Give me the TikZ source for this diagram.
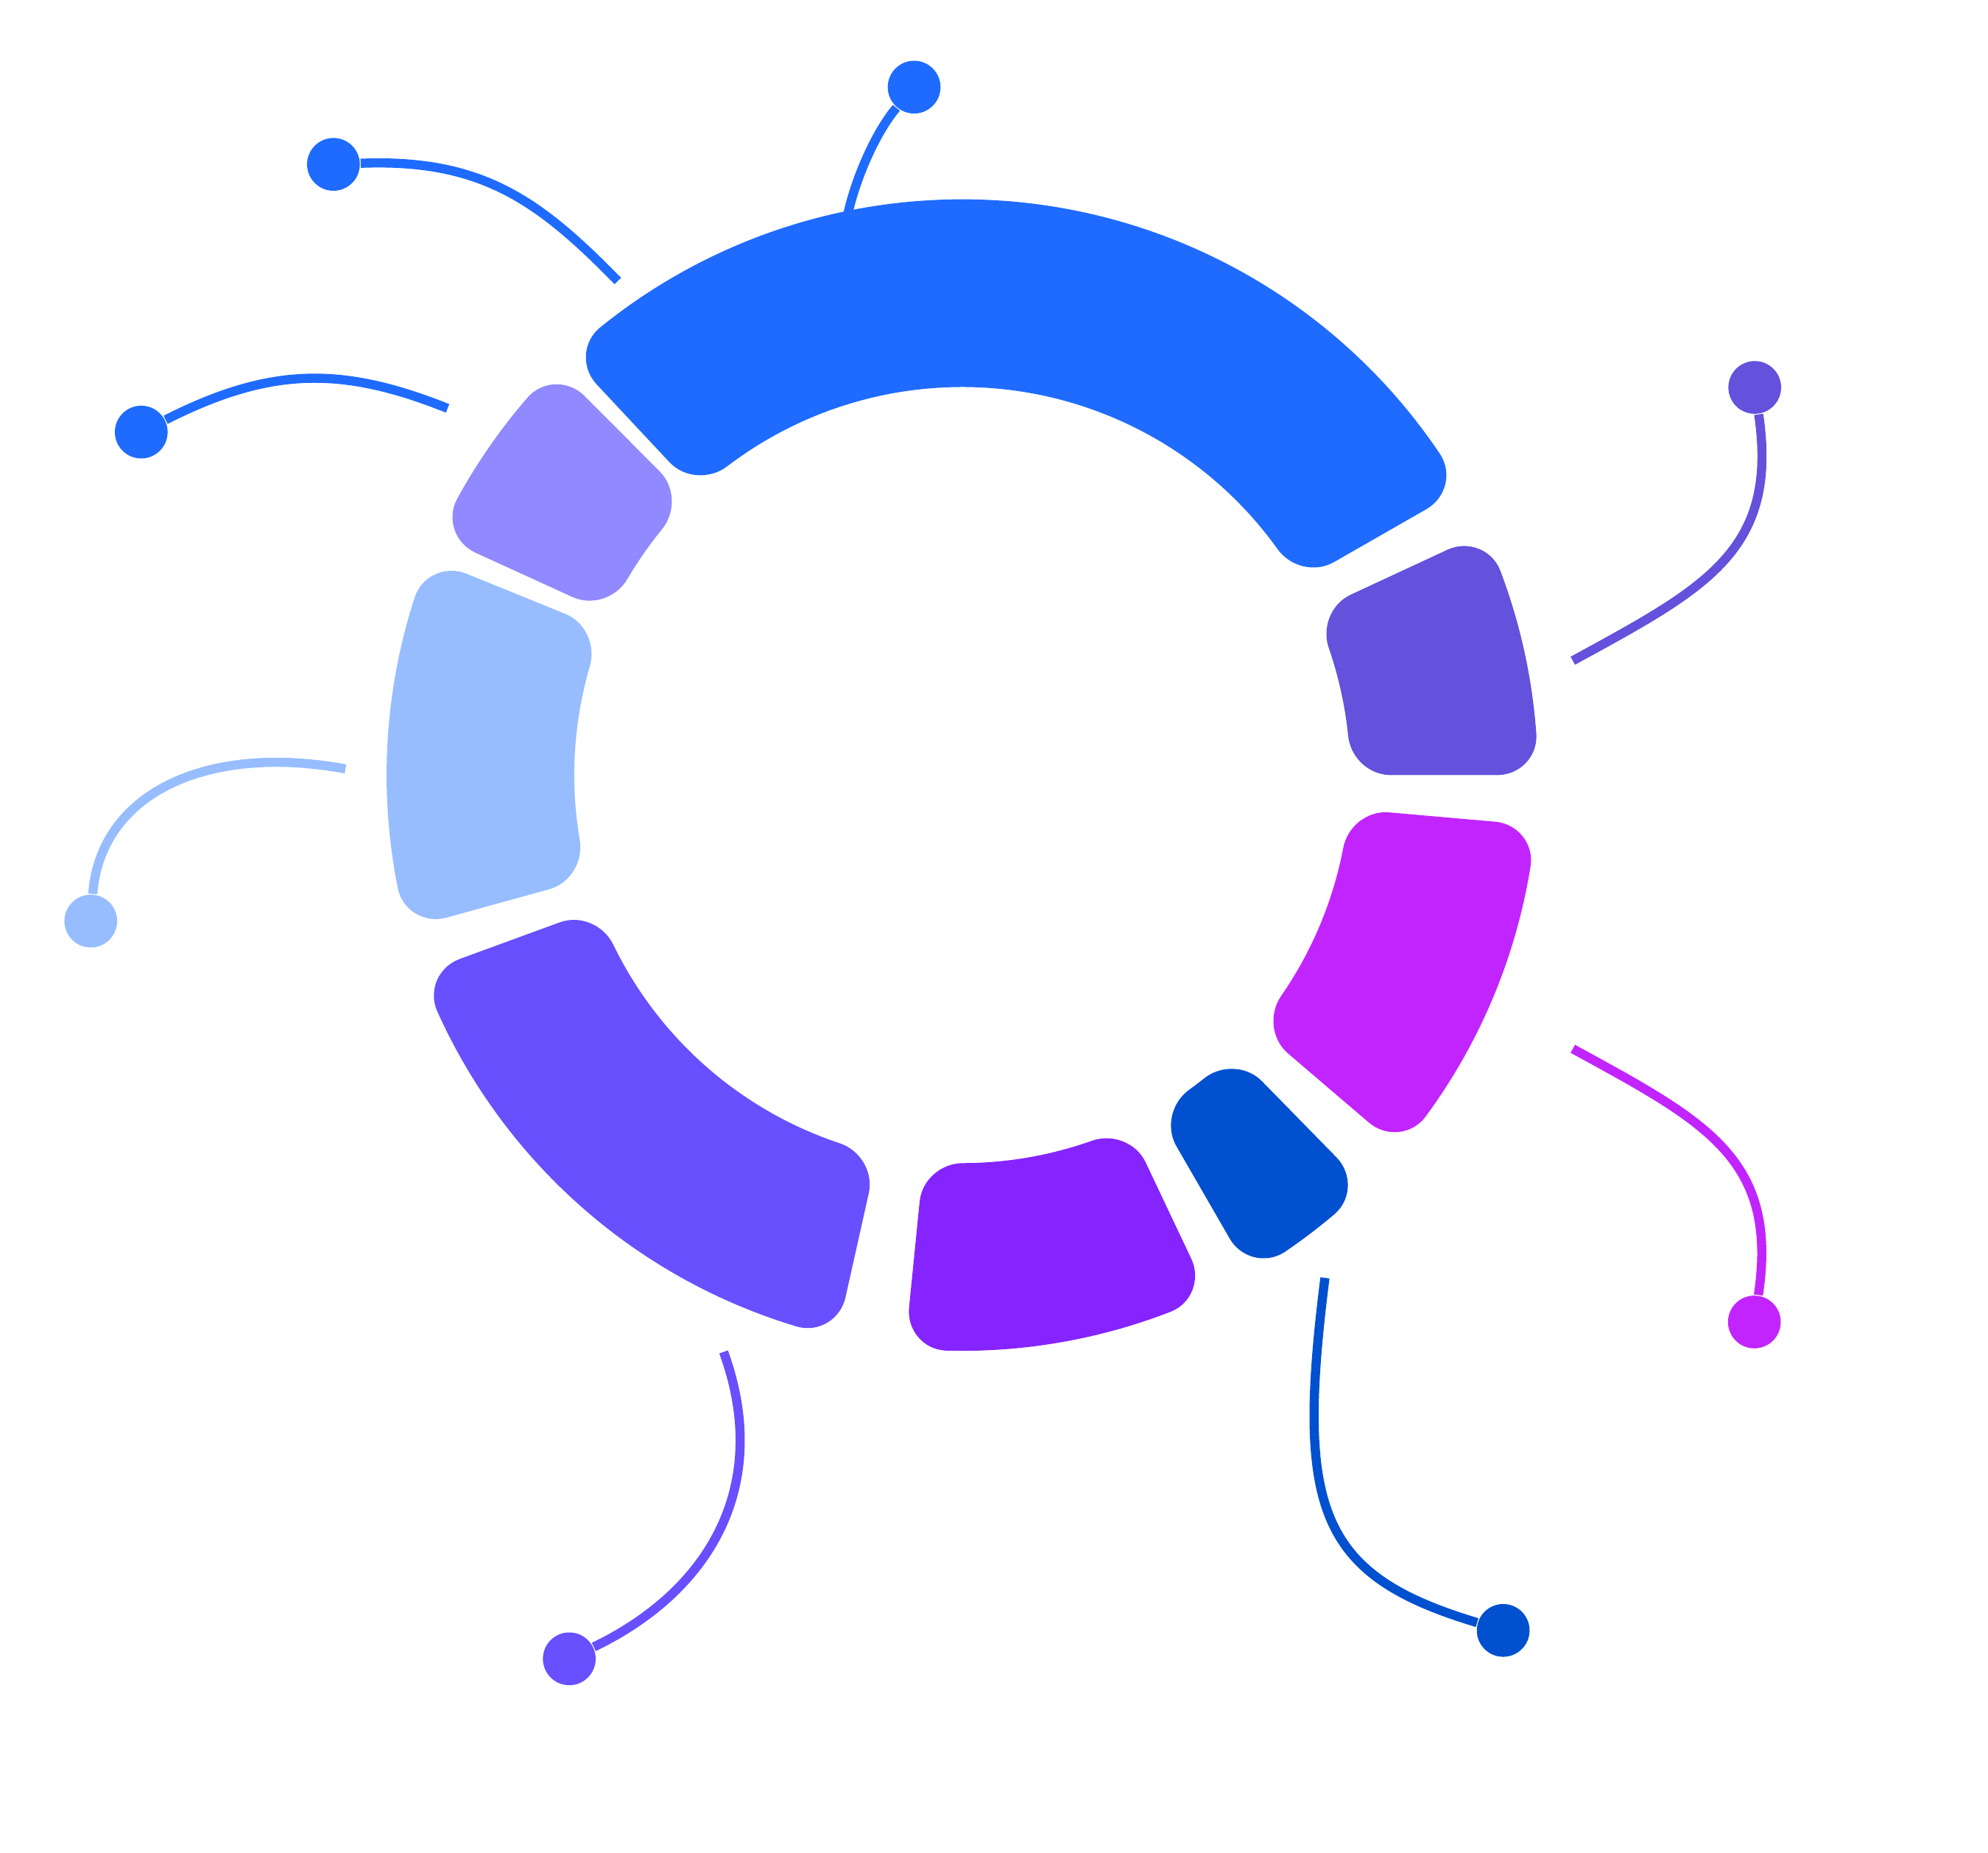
\documentclass[tikz,border=0pt]{standalone}
\usepackage{xcolor}
\usepackage{tikz}
\usetikzlibrary{calc}

\definecolor{segblue}{HTML}{1F6BFF}
\definecolor{seglav}{HTML}{9189FF}
\definecolor{seglight}{HTML}{97BDFF}
\definecolor{segindigo}{HTML}{684FFF}
\definecolor{segviolet}{HTML}{8524FF}
\definecolor{segdark}{HTML}{0050D0}
\definecolor{segmagenta}{HTML}{C224FF}
\definecolor{segpurple}{HTML}{6451DC}

\begin{document}
\begin{tikzpicture}

\useasboundingbox (0,0) rectangle (15.68,-14.611);
% \draw[step=0.5,gray,very thin] (0,0) grid (15.68,-14.611);

\tikzstyle{mydot}=[shape=circle,minimum size=0.416cm,inner sep=0pt]
\tikzstyle{myline}=[line width=2.05pt]

% dots at the ends of the leader lines
\node [mydot,fill=segblue] (d1) at (7.21,-0.687) {};
\node [mydot,fill=segblue] (d2) at (2.63,-1.296) {};
\node [mydot,fill=segblue] (d3) at (1.114,-3.407) {};
\node [mydot,fill=seglight] (d4) at (0.716,-7.263) {};
\node [mydot,fill=segpurple] (d5) at (13.84,-3.055) {};
\node [mydot,fill=segmagenta] (d6) at (13.837,-10.424) {};
\node [mydot,fill=segdark] (d7) at (11.856,-12.856) {};
\node [mydot,fill=segindigo] (d8) at (4.49,-13.08) {};

\coordinate (c1) at (6.688,-1.684);
\coordinate (c2) at (4.873,-2.216);
\coordinate (c3) at (3.53,-3.22);
\coordinate (c4) at (2.725,-6.063);
\coordinate (c5) at (12.405,-5.21);
\coordinate (c6) at (12.405,-8.27);
\coordinate (c7) at (10.45,-10.076);
\coordinate (c8) at (5.707,-10.66);

\draw [myline,segblue] (c1) .. controls (6.753,-1.391) and (6.914,-1.033) .. (d1);
\draw [myline,segblue] (c2) .. controls (4.25,-1.58) and (3.80,-1.25) .. (d2);
\draw [myline,segblue] (c3) .. controls (2.68,-2.88) and (2.12,-2.90) .. (d3);
\draw [myline,seglight] (c4) .. controls (1.625,-5.86) and (0.79,-6.26) .. (d4);
\draw [myline,segpurple] (c5) .. controls (13.457,-4.635) and (14.029,-4.342) .. (d5);
\draw [myline,segmagenta] (c6) .. controls (13.457,-8.845) and (14.029,-9.138) .. (d6);
\draw [myline,segdark] (c7) .. controls (10.22,-11.90) and (10.40,-12.42) .. (d7);
\draw [myline,segindigo] (c8) .. controls (6.083,-11.694) and (5.62,-12.534) .. (d8);

% ring pieces, corners rounded by hand (r = 0.32)
\coordinate (o) at (7.589,-6.1115);
\pgfmathsetmacro{\dinn}{deg(0.32/3.06)}
\pgfmathsetmacro{\dout}{deg(0.32/4.54)}
\begin{scope}[shift={(o)}]
\foreach \a/\b/\col in {29.8/133.1/segblue, 134.9/155.45/seglav, 157.9/195.45/seglight,
    200.1/257.4/segindigo, 264.3/295.35/segviolet, 300/314.4/segdark,
    319.5/355/segmagenta, 0/24.9/segpurple}
{
  \pgfmathsetmacro{\ai}{\a+\dinn}
  \pgfmathsetmacro{\aic}{\a+0.45*\dinn}
  \pgfmathsetmacro{\ao}{\a+\dout}
  \pgfmathsetmacro{\aoc}{\a+0.45*\dout}
  \pgfmathsetmacro{\bi}{\b-\dinn}
  \pgfmathsetmacro{\bic}{\b-0.45*\dinn}
  \pgfmathsetmacro{\bo}{\b-\dout}
  \pgfmathsetmacro{\boc}{\b-0.45*\dout}
  \fill [\col] (\ai:3.06) .. controls (\aic:3.06) and (\a:3.204) .. (\a:3.38)
    -- (\a:4.22) .. controls (\a:4.396) and (\aoc:4.54) .. (\ao:4.54)
    arc [start angle=\ao, end angle=\bo, radius=4.54]
    .. controls (\boc:4.54) and (\b:4.396) .. (\b:4.22)
    -- (\b:3.38) .. controls (\b:3.204) and (\bic:3.06) .. (\bi:3.06)
    arc [start angle=\bi, end angle=\ai, radius=3.06] -- cycle;
}
\end{scope}

\end{tikzpicture}
\end{document}
